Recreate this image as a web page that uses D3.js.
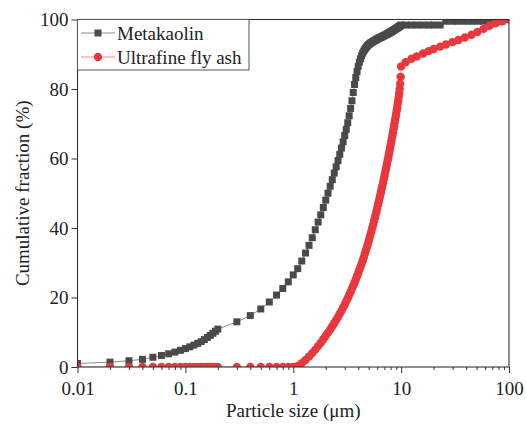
<!DOCTYPE html>
<html><head><meta charset="utf-8">
<script src="https://cdn.jsdelivr.net/npm/d3@7"></script>
<style>
html,body{margin:0;padding:0;background:#fff;}
text{font-family:"Liberation Serif","Times New Roman",serif;fill:#222;}
</style></head>
<body>
<svg id="c" width="526" height="425"></svg>
<script>
// ---- data (particle size in µm, cumulative fraction in %) ----
const sizes = [
  0.01,0.02,0.03,0.04,0.05,0.06,0.07,0.08,0.09,0.10,0.11,0.12,0.13,0.14,0.15,0.16,0.17,0.18,0.19,0.20,
  0.3,0.4,0.5,0.6,0.7,0.8,0.9,1.0,
  1.1,1.2,1.3,1.4,1.5,1.6,1.7,1.8,1.9,2.0,
  2.1,2.2,2.3,2.4,2.5,2.6,2.7,2.8,2.9,3.0,
  3.1,3.2,3.3,3.4,3.5,3.6,3.7,3.8,3.9,4.0,
  4.1,4.2,4.3,4.4,4.5,4.6,4.7,4.8,4.9,5.0,
  5.1,5.2,5.3,5.4,5.5,5.6,5.7,5.8,5.9,6.0,
  6.1,6.2,6.3,6.4,6.5,6.6,6.7,6.8,6.9,7.0,
  7.1,7.2,7.3,7.4,7.5,7.6,7.7,7.8,7.9,8.0,
  8.1,8.2,8.3,8.4,8.5,8.6,8.7,8.8,8.9,9.0,
  9.1,9.2,9.3,9.4,9.5,9.6,9.7,9.8,9.9,10.0,
  11,12.5,14,16,18,20,23,26,30,34,39,45,51,58,66,75,86,100
];
const metakaolin = [
  1.0,1.4,1.8,2.2,2.8,3.3,3.8,4.3,4.8,5.3,5.8,6.3,6.8,7.3,7.9,8.5,9.1,9.7,10.3,10.9,
  13.0,14.8,16.7,18.7,20.7,22.6,24.5,26.5,
  28.3,30.5,32.8,35.0,37.2,39.5,41.7,43.8,45.9,48.0,
  50.0,52.0,53.9,55.8,57.6,59.4,61.2,63.0,64.8,66.6,
  68.4,70.3,72.3,74.4,76.6,79.0,81.3,83.3,85.0,86.5,
  87.7,88.7,89.6,90.3,90.9,91.4,91.8,92.2,92.5,92.8,
  93.0,93.2,93.4,93.5,93.7,93.8,94.0,94.1,94.2,94.4,
  94.5,94.6,94.7,94.8,94.9,95.0,95.1,95.2,95.3,95.4,
  95.5,95.6,95.7,95.8,95.9,96.0,96.1,96.2,96.3,96.4,
  96.5,96.6,96.7,96.8,96.9,97.0,97.1,97.2,97.3,97.4,
  97.5,97.6,97.7,97.8,97.9,98.0,98.1,98.2,98.3,98.4,
  98.4,98.4,98.4,98.4,98.4,98.4,98.4,99.5,99.5,99.5,99.5,99.5,99.5,99.5,99.5,99.5,99.5,100
];
const flyAsh = [
  0,0,0,0,0,0,0,0,0,0,0,0,0,0,0,0,0,0,0,0,
  0,0,0,0,0,0,0,0,
  0.3,1.1,2.0,3.0,4.0,5.0,6.0,7.0,8.0,9.0,
  9.9,10.8,11.7,12.6,13.5,14.4,15.3,16.2,17.1,18.0,
  18.9,19.8,20.7,21.6,22.5,23.4,24.3,25.2,26.1,27.0,
  27.9,28.8,29.7,30.6,31.5,32.5,33.4,34.3,35.2,36.2,
  37.1,38.1,39.0,40.0,40.9,41.9,42.8,43.8,44.7,45.7,
  46.6,47.5,48.5,49.4,50.3,51.2,52.1,53.0,54.0,54.9,
  55.8,56.7,57.6,58.5,59.4,60.3,61.2,62.1,63.0,63.9,
  64.8,65.7,66.6,67.5,68.4,69.3,70.2,71.1,72.0,72.9,
  73.8,74.7,75.7,76.7,77.7,78.8,80.0,81.5,83.5,86.5,
  87.7,88.7,89.4,90.2,90.9,91.5,92.2,92.8,93.5,94.1,94.8,95.6,96.4,97.3,98.2,98.9,99.5,100
];
const seriesNames = ["Metakaolin","Ultrafine fly ash"];
const xTickValues = [0.01,0.1,1,10,100];
const xTickLabels = ["0.01","0.1","1","10","100"];
const yTickValues = [0,20,40,60,80,100];
const xTitle = "Particle size (\u03bcm)";
const yTitle = "Cumulative fraction (%)";

// ---- layout ----
const L = 77.5, R = 509, T = 19.5, B = 367;
const svg = d3.select("#c");
const x = d3.scaleLog().domain([0.01,100]).range([L,R]);
const y = d3.scaleLinear().domain([0,100]).range([B,T]);

const gray = "#4a4a4a", grayLine = "#8a8a8a";
const red = "#e8383d", redLine = "#f08a8a";

// minor ticks
const minor = [];
[0.01,0.1,1,10].forEach(d => { for (let k=2;k<=9;k++) minor.push(d*k); });

const gxMinor = svg.append("g").attr("transform",`translate(0,${B})`)
  .call(d3.axisBottom(x).tickValues(minor).tickSize(3).tickFormat(""));
const gx = svg.append("g").attr("transform",`translate(0,${B})`)
  .call(d3.axisBottom(x).tickValues(xTickValues).tickSize(6).tickPadding(8)
    .tickFormat((d,i) => xTickLabels[i]));
const gy = svg.append("g").attr("transform",`translate(${L},0)`)
  .call(d3.axisLeft(y).tickValues(yTickValues).tickSize(6).tickPadding(3));
[gxMinor,gx,gy].forEach(g => {
  g.select(".domain").remove();
  g.selectAll("line").attr("stroke","#333").attr("stroke-width",1);
  g.selectAll("text").style("font-family",'"Liberation Serif","Times New Roman",serif')
   .style("font-size","19px").attr("fill","#222");
});
gx.selectAll("text").attr("dy","0.75em");
gy.selectAll("text").attr("dy","0.34em");

// clip
svg.append("clipPath").attr("id","clip").append("rect")
  .attr("x",L).attr("y",T).attr("width",R-L).attr("height",B-T);
const plot = svg.append("g").attr("clip-path","url(#clip)");

const idx = d3.range(sizes.length);
const lineGen = vals => d3.line().x(i => x(sizes[i])).y(i => y(vals[i]))(idx);

plot.append("path").attr("d",lineGen(metakaolin)).attr("fill","none")
  .attr("stroke",grayLine).attr("stroke-width",1);
plot.append("path").attr("d",lineGen(flyAsh)).attr("fill","none")
  .attr("stroke",redLine).attr("stroke-width",1);

const sq = 7;
plot.append("g").selectAll("rect").data(idx).join("rect")
  .attr("x",i => x(sizes[i]) - sq/2).attr("y",i => y(metakaolin[i]) - sq/2)
  .attr("width",sq).attr("height",sq).attr("fill",gray);
plot.append("g").selectAll("circle").data(idx).join("circle")
  .attr("cx",i => x(sizes[i])).attr("cy",i => y(flyAsh[i]))
  .attr("r",4.2).attr("fill",red);

// frame
svg.append("rect").attr("x",L).attr("y",T).attr("width",R-L).attr("height",B-T)
  .attr("fill","none").attr("stroke","#333").attr("stroke-width",1.1);

// legend
const lg = svg.append("g");
lg.append("rect").attr("x",L).attr("y",T).attr("width",249-L).attr("height",70-T)
  .attr("fill","#fff").attr("stroke","#555").attr("stroke-width",1);
const rows = [{name:seriesNames[0], c:gray, lc:grayLine, shape:"sq", cy:33},
              {name:seriesNames[1], c:red, lc:redLine, shape:"ci", cy:57}];
rows.forEach(r => {
  lg.append("line").attr("x1",81).attr("x2",115).attr("y1",r.cy).attr("y2",r.cy)
    .attr("stroke",r.lc).attr("stroke-width",1);
  if (r.shape==="sq") lg.append("rect").attr("x",98-sq/2).attr("y",r.cy-sq/2)
    .attr("width",sq).attr("height",sq).attr("fill",r.c);
  else lg.append("circle").attr("cx",98).attr("cy",r.cy).attr("r",4.2).attr("fill",r.c);
  lg.append("text").attr("x",117).attr("y",r.cy+6.5).style("font-size","19px").text(r.name);
});

// titles
svg.append("text").attr("x",(L+R)/2).attr("y",417).attr("text-anchor","middle")
  .style("font-size","19px").text(xTitle);
svg.append("text").attr("transform",`translate(29,${(T+B)/2}) rotate(-90)`)
  .attr("text-anchor","middle").style("font-size","19px").text(yTitle);
</script>
</body></html>
